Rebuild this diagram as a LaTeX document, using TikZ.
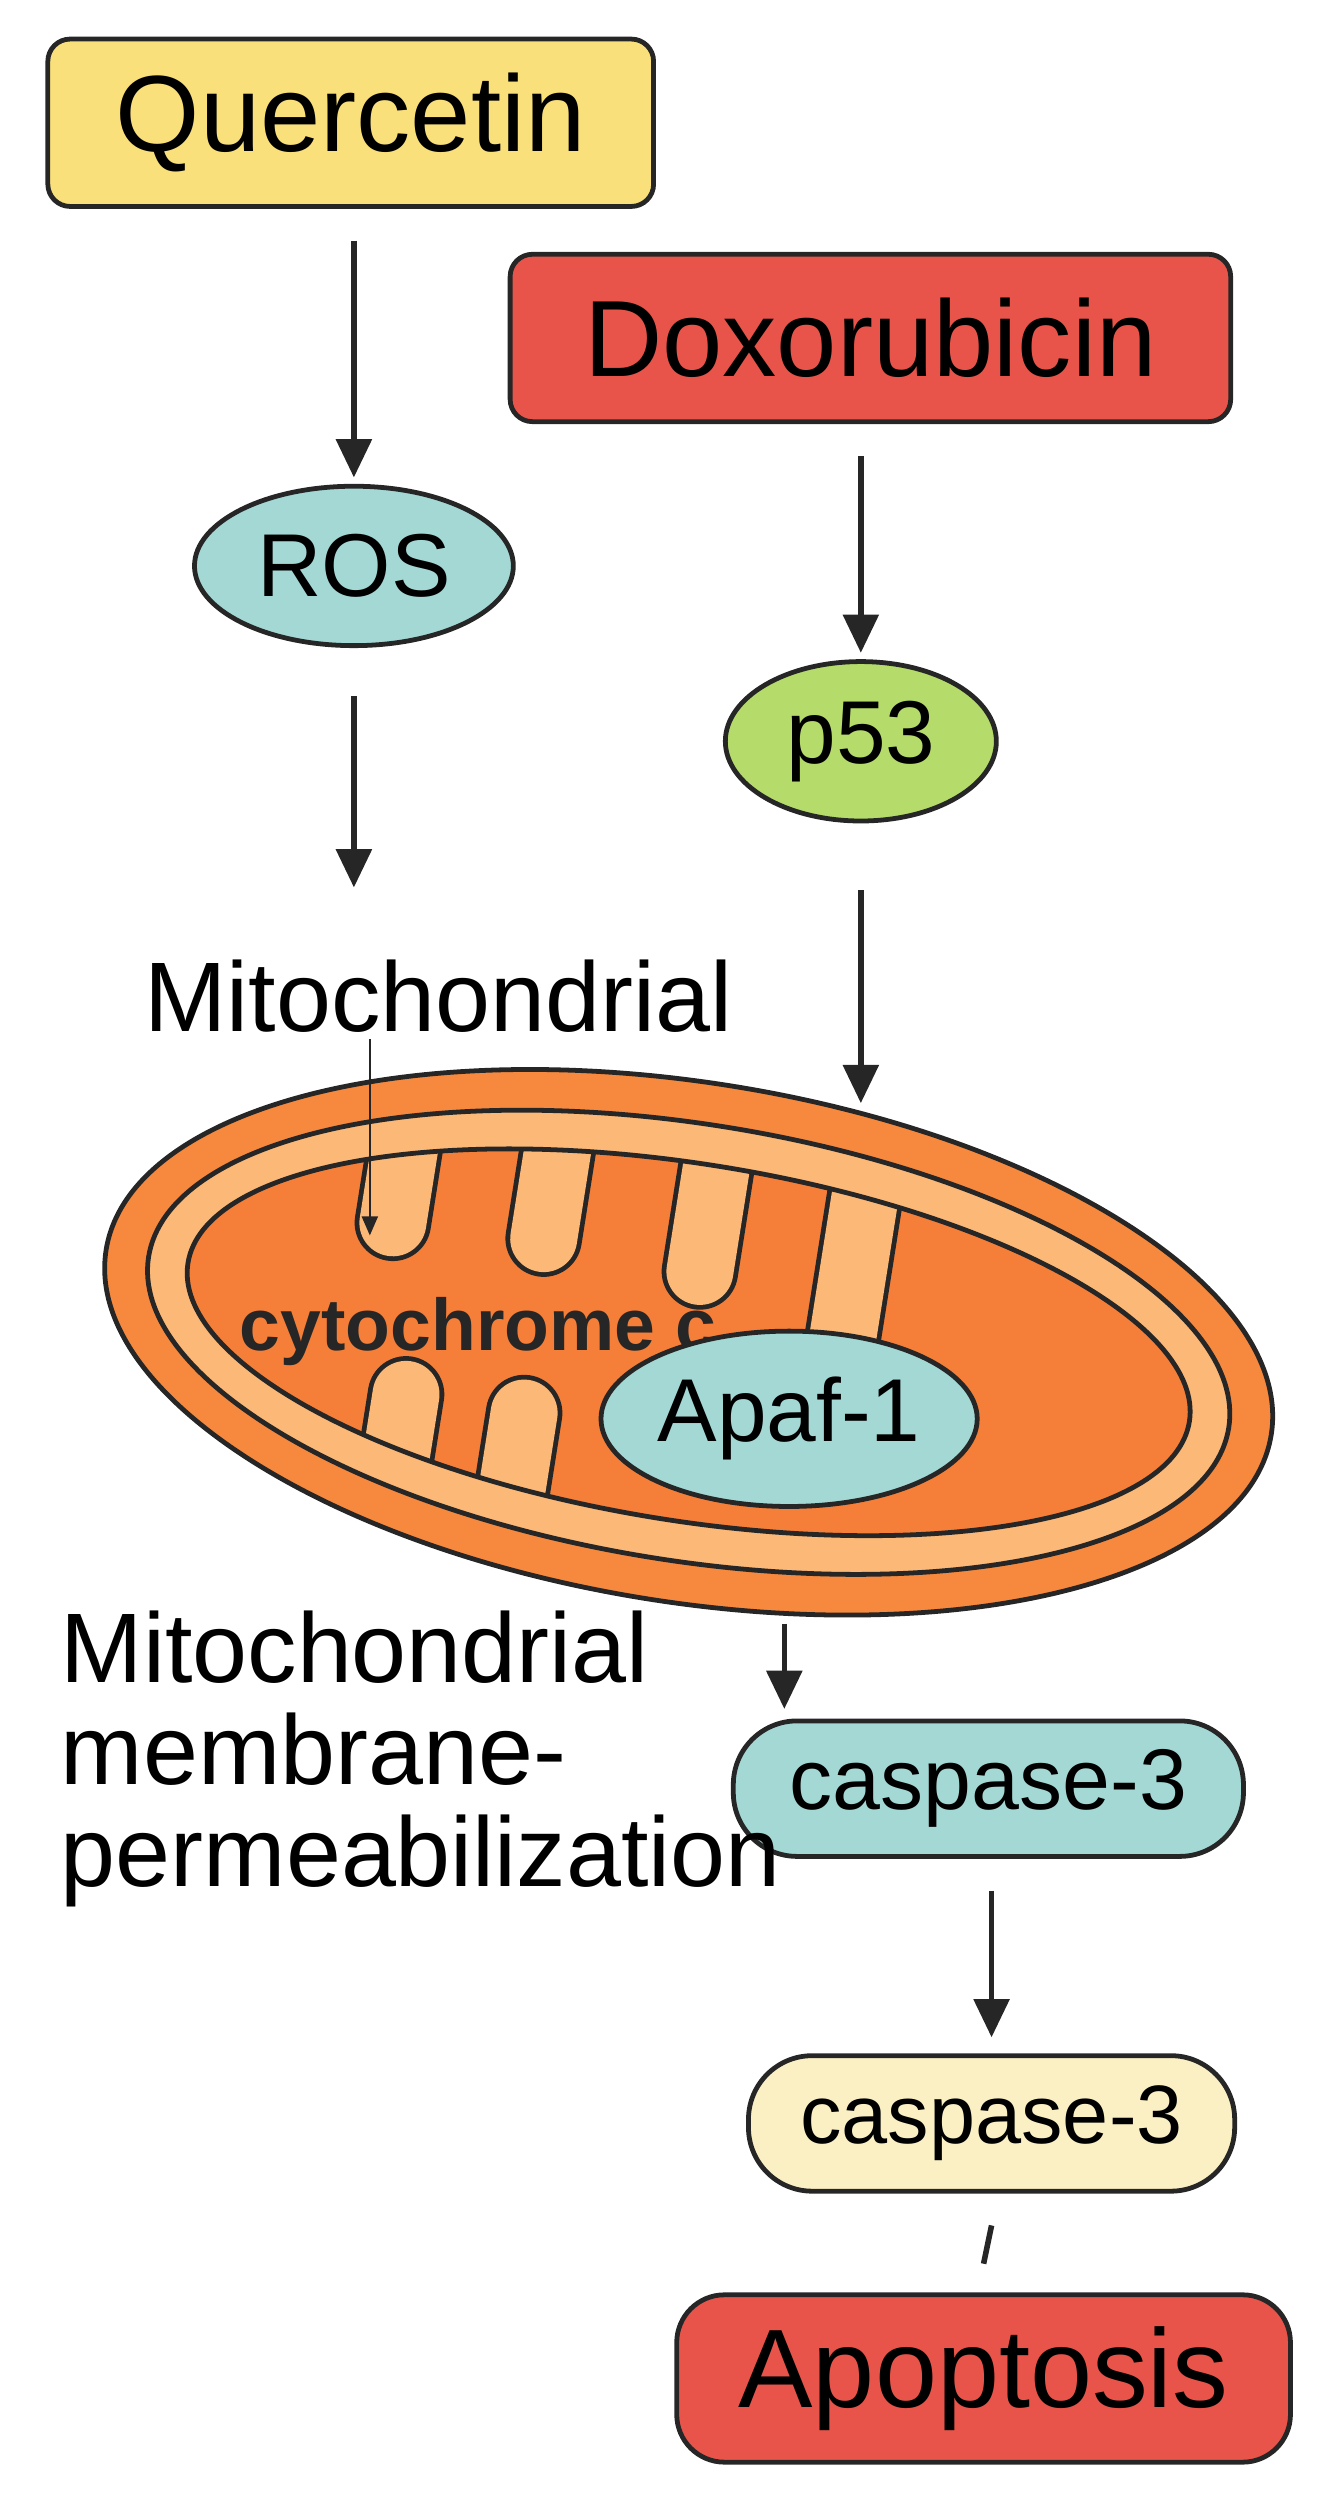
\documentclass[tikz,border=0pt]{standalone}
\usepackage{fontspec}
\setmainfont{Liberation Sans}
\usetikzlibrary{arrows.meta,shapes.geometric}
\definecolor{yel}{HTML}{FAE07A}
\definecolor{red}{HTML}{E8544A}
\definecolor{teal}{HTML}{A3D8D5}
\definecolor{grn}{HTML}{B5DB6A}
\definecolor{org}{HTML}{F6893E}
\definecolor{lorg}{HTML}{FBB877}
\definecolor{morg}{HTML}{F57F38}
\definecolor{cream}{HTML}{FBF0C4}
\begin{document}
\begin{tikzpicture}[x=1pt,y=-1pt,
 box/.style={draw=black!85,line width=3pt,rounded corners=14pt,inner sep=0pt},
 pill/.style={draw=black!85,line width=3pt,rounded corners=40pt,inner sep=0pt},
 ell/.style={draw=black!85,line width=3pt,ellipse,inner sep=0pt},
 arr/.style={line width=3.5pt,-{Triangle[length=24pt,width=22pt]},black!85},
 fs/.style={font=\fontsize{#1}{#1}\selectfont}]
\useasboundingbox (0,0) rectangle (842,1572);
\node[box,fill=yel,minimum width=380pt,minimum height=105pt,fs=68] (q) at (220,77) {Quercetin};
\node[box,fill=red,minimum width=452pt,minimum height=105pt,fs=68] (d) at (546,212) {Doxorubicin};
\node[ell,fill=teal,minimum width=200pt,minimum height=100pt,fs=56] (ros) at (222,355) {ROS};
\node[ell,fill=grn,minimum width=170pt,minimum height=100pt,fs=56] (p53) at (540,465) {p53};
\node[fs=62] (mt) at (275,625) {Mitochondrial};
% mitochondrion
\begin{scope}[shift={(432,842)},rotate=-9]
 \fill[org,draw=black!85,line width=3pt] (0,0) ellipse (370 and 163);
 \fill[lorg,draw=black!85,line width=3pt] (0,0) ellipse (343 and 137);
 \path[fill=morg] (0,0) ellipse (318 and 112);
 \begin{scope}
 \clip (0,0) ellipse (318 and 112);
 \foreach \x/\a/\b in {-195/-130/-45,-100/-130/-50,0/-130/-45,95/-130/-10,-170/130/60,-95/130/60}{
  \draw[black!85,line width=48pt,line cap=round] (\x,\a) -- (\x,\b);
  \draw[lorg,line width=42pt,line cap=round] (\x,\a) -- (\x,\b);
 }
 \end{scope}
 \draw[black!85,line width=3pt] (0,0) ellipse (318 and 112);
\end{scope}
\coordinate (mtstart) at (232,652);
\coordinate (mtend) at (232,775);
\draw[line width=1.5pt,-{Triangle[length=12pt,width=10pt]},black!85] (mtstart) -- (mtend);
\node[font=\bfseries\fontsize{46}{46}\selectfont,text=black!85] (cyt) at (300,835) {cytochrome c};
\node[ell,fill=teal,minimum width=236pt,minimum height=110pt,fs=56] (apaf) at (495,890) {Apaf-1};
\node[pill,fill=teal,minimum width=320pt,minimum height=85pt,fs=54] (c1) at (620,1122) {caspase-3};
\node[pill,fill=cream,minimum width=305pt,minimum height=85pt,fs=52] (c2) at (622,1332) {caspase-3};
\node[box,rounded corners=30pt,fill=red,minimum width=385pt,minimum height=105pt,fs=70] (apo) at (617,1492) {Apoptosis};
\node[anchor=north west,align=left,fs=62,inner sep=0pt] (mmp) at (38,1010) {Mitochondrial\\[2pt]membrane-\\[2pt]permeabilization};
\draw[arr] ([yshift=-20pt]q.south -| ros.north) -- ([yshift=4pt]ros.north);
\draw[arr] ([yshift=-20pt]d.south -| p53.north) -- ([yshift=4pt]p53.north);
\draw[arr] ([yshift=-30pt]ros.south) -- ([yshift=42pt]mt.north -| ros.south);
\draw[arr] ([yshift=-42pt]p53.south) -- (540,692);
\draw[arr] ([yshift=-72pt]apaf.south -| 492,0) -- ([yshift=6pt]c1.north -| 492,0);
\draw[arr] ([yshift=-20pt]c1.south -| c2.north) -- ([yshift=10pt]c2.north);
\draw[line width=3.5pt,black!85] ([yshift=-20pt]c2.south) -- ([yshift=18pt]apo.north);
\end{tikzpicture}
\end{document}
